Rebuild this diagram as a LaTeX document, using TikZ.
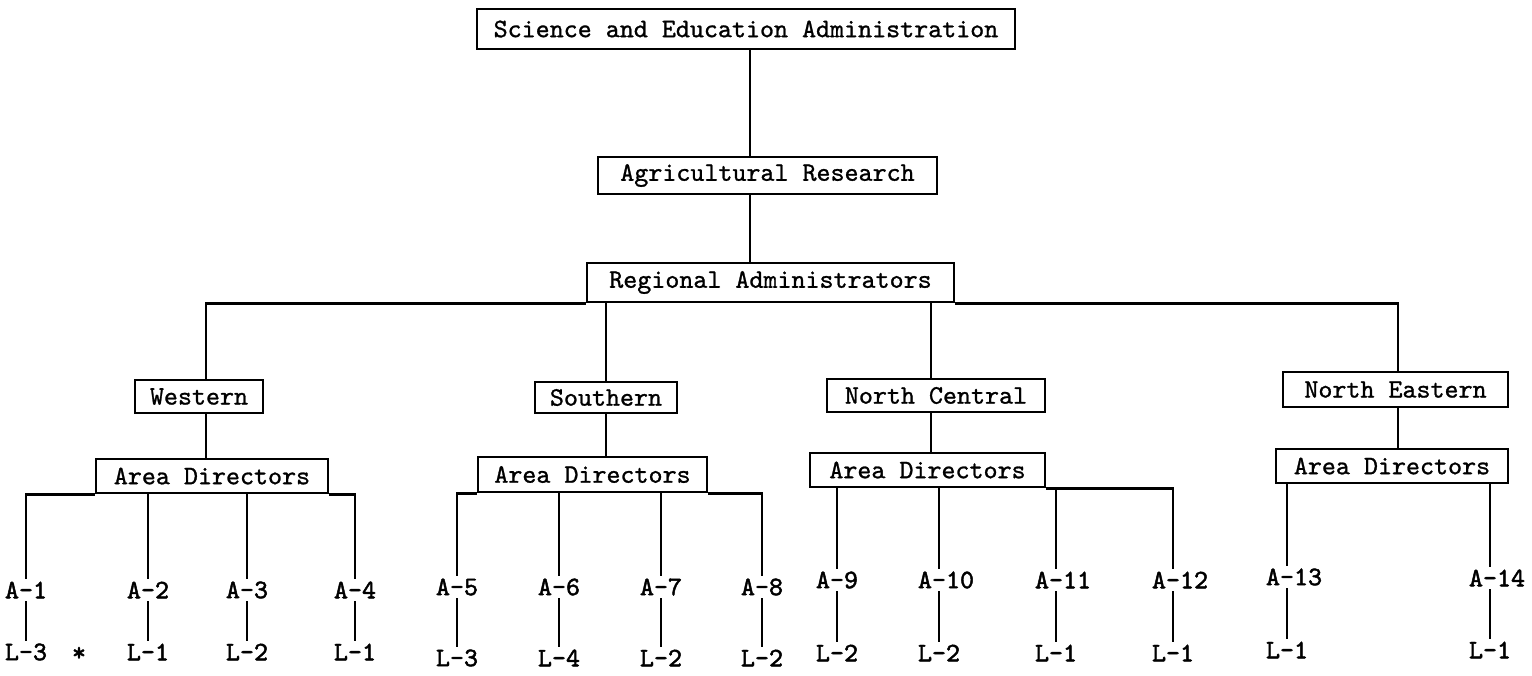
\documentclass[tikz,border=0pt]{standalone}
\usepackage{fontspec}
\newfontfamily\tw[FakeBold=1.0]{lmmono10-regular.otf}
\newfontfamily\twb[FakeBold=1.8]{lmmono10-regular.otf}
\begin{document}
\begin{tikzpicture}[x=1pt,y=-1pt,line width=2.6pt,
  box/.style={draw,line width=2.4pt,inner sep=0pt,font=\tw\fontsize{26.7}{30}\selectfont},
  lbl/.style={inner sep=1.5pt,font=\twb\fontsize{26.7}{30}\selectfont}]
\fill[white] (0,0) rectangle (1532,675);
\useasboundingbox (0,0) rectangle (1532,675);
% boxes
\node[box,minimum width=538pt,minimum height=40pt] (sea) at (746,29) {Science and Education Administration};
\node[box,minimum width=339pt,minimum height=37pt] (ar) at (767.5,175.5) {Agricultural Research};
\node[box,minimum width=367pt,minimum height=39pt] (ra) at (770.5,282.5) {Regional Administrators};
\node[box,minimum width=128pt,minimum height=33pt] (wes) at (199,396.5) {Western};
\node[box,minimum width=142pt,minimum height=31pt] (sou) at (606,397.5) {Southern};
\node[box,minimum width=218pt,minimum height=33pt] (nc) at (936,395.5) {North Central};
\node[box,minimum width=225pt,minimum height=35pt] (ne) at (1395.5,389.5) {North Eastern};
\node[box,minimum width=232pt,minimum height=34pt] (adw) at (212,476) {Area Directors};
\node[box,minimum width=229pt,minimum height=35pt] (ads) at (592.5,474.5) {Area Directors};
\node[box,minimum width=235pt,minimum height=34pt] (adn) at (927.5,470) {Area Directors};
\node[box,minimum width=232pt,minimum height=34pt] (ade) at (1392,466) {Area Directors};
% line positions
\coordinate (xtop) at (750,0);
\coordinate (xw) at (206,0);
\coordinate (xs) at (606,0);
\coordinate (xn) at (931,0);
\coordinate (xe) at (1398,0);
% A labels
\node[lbl] (a1) at (26,590) {\llap{A}-\rlap{1}};
\node[lbl] (a2) at (148,590) {\llap{A}-\rlap{2}};
\node[lbl] (a3) at (247,590) {\llap{A}-\rlap{3}};
\node[lbl] (a4) at (355,590) {\llap{A}-\rlap{4}};
\node[lbl] (a5) at (457,587) {\llap{A}-\rlap{5}};
\node[lbl] (a6) at (559,587) {\llap{A}-\rlap{6}};
\node[lbl] (a7) at (661,587) {\llap{A}-\rlap{7}};
\node[lbl] (a8) at (762,587) {\llap{A}-\rlap{8}};
\node[lbl] (a9) at (837,580) {\llap{A}-\rlap{9}};
\node[lbl] (a10) at (939,580) {\llap{A}-\rlap{10}};
\node[lbl] (a11) at (1056,580) {\llap{A}-\rlap{11}};
\node[lbl] (a12) at (1173,580) {\llap{A}-\rlap{12}};
\node[lbl] (a13) at (1287,577) {\llap{A}-\rlap{13}};
\node[lbl] (a14) at (1490,578) {\llap{A}-\rlap{14}};
% L labels
\node[lbl] (l1) at (26,652) {\llap{L}-\rlap{3}};
\node[lbl] (l2) at (148,652) {\llap{L}-\rlap{1}};
\node[lbl] (l3) at (247,652) {\llap{L}-\rlap{2}};
\node[lbl] (l4) at (355,652) {\llap{L}-\rlap{1}};
\node[lbl] (l5) at (457,658) {\llap{L}-\rlap{3}};
\node[lbl] (l6) at (559,658) {\llap{L}-\rlap{4}};
\node[lbl] (l7) at (661,658) {\llap{L}-\rlap{2}};
\node[lbl] (l8) at (762,658) {\llap{L}-\rlap{2}};
\node[lbl] (l9) at (837,653) {\llap{L}-\rlap{2}};
\node[lbl] (l10) at (939,653) {\llap{L}-\rlap{2}};
\node[lbl] (l11) at (1056,653) {\llap{L}-\rlap{1}};
\node[lbl] (l12) at (1173,653) {\llap{L}-\rlap{1}};
\node[lbl] (l13) at (1287,650) {\llap{L}-\rlap{1}};
\node[lbl] (l14) at (1490,650) {\llap{L}-\rlap{1}};
\node[lbl] (star) at (79,654) {*};
% top chain
\draw (sea.south -| xtop) -- (ar.north -| xtop);
\draw (ar.south -| xtop) -- (ra.north -| xtop);
% regional bus
\draw (wes.north -| xw) |- (ra.south west);
\draw (ne.north -| xe) |- (ra.south east);
\draw (sou.north -| xs) -- (xs |- ra.south);
\draw (nc.north -| xn) -- (xn |- ra.south);
% region to area directors
\draw (wes.south -| xw) -- (adw.north -| xw);
\draw (sou.south -| xs) -- (ads.north -| xs);
\draw (nc.south -| xn) -- (adn.north -| xn);
\draw (ne.south -| xe) -- (ade.north -| xe);
% area directors to A
\draw (a1.north) |- (adw.south west);
\draw (a2.north) -- (a2.north |- adw.south);
\draw (a3.north) -- (a3.north |- adw.south);
\draw (a4.north) |- (adw.south east);
\draw (a5.north) |- (ads.south west);
\draw (a6.north) -- (a6.north |- ads.south);
\draw (a7.north) -- (a7.north |- ads.south);
\draw (a8.north) |- (ads.south east);
\draw (a9.north) -- (a9.north |- adn.south);
\draw (a10.north) -- (a10.north |- adn.south);
\draw (a11.north) -- (a11.north |- adn.south);
\draw (a12.north) |- (adn.south east);
\draw (a13.north) -- (a13.north |- ade.south);
\draw (a14.north) -- (a14.north |- ade.south);
% A to L
\foreach \i in {1,...,14} {\draw (a\i.south) -- (l\i.north);}
\end{tikzpicture}
\end{document}
